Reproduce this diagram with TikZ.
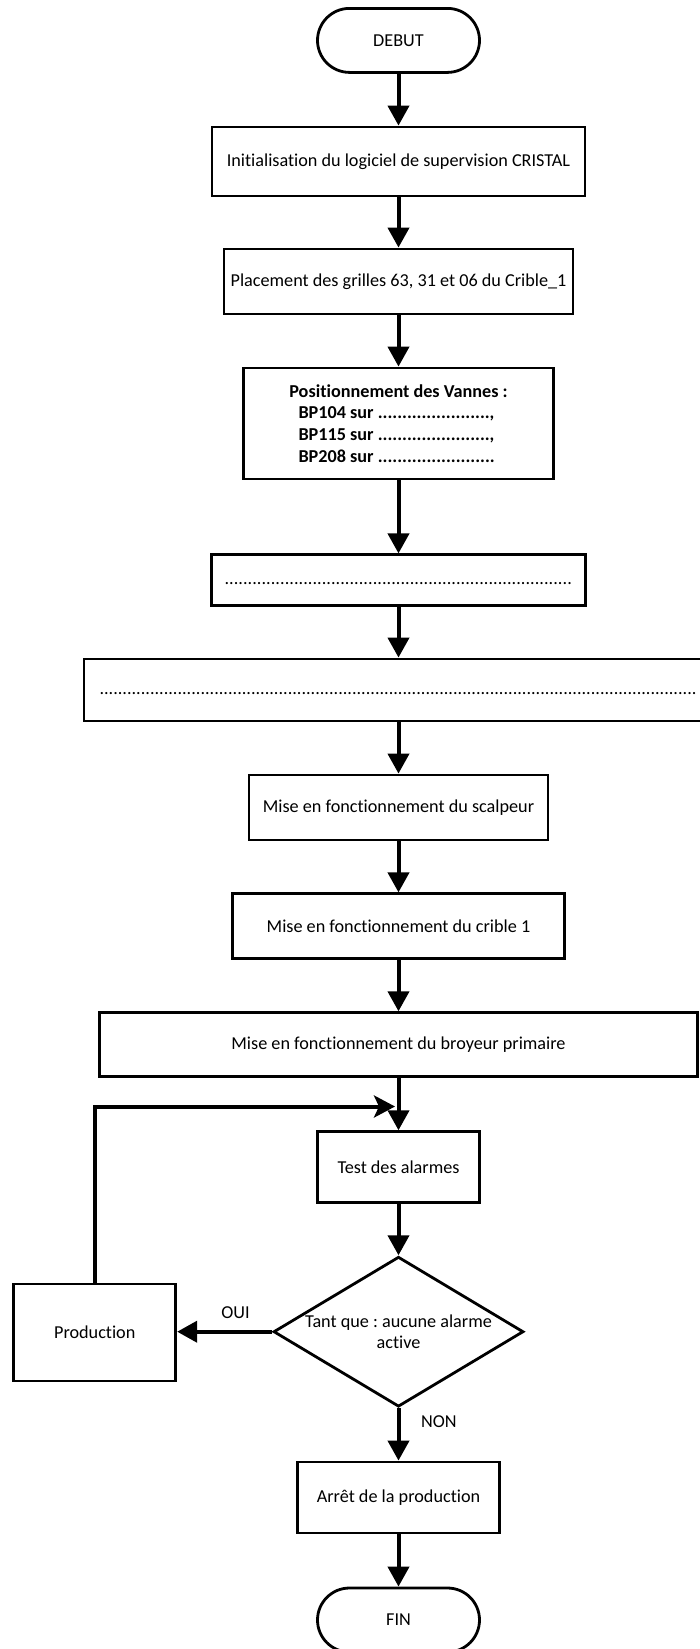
\documentclass[tikz,border=0pt]{standalone}
\usepackage{fontspec}
\setmainfont{Carlito}[Ligatures=NoCommon]
\frenchspacing
\usetikzlibrary{arrows.meta,shapes.geometric}

% a row of tightly packed dots of a given width
\newcommand{\dotrow}[1]{\hbox to #1{\xleaders\hbox{.}\hfill}}
% one valve line, left aligned in a fixed-width slot
\newcommand{\valve}[1]{\makebox[200pt][l]{#1}}

\begin{document}
\begin{tikzpicture}[x=1pt,y=-1pt,
  every node/.style={font=\fontsize{18.2}{21.7}\selectfont},
  box/.style={draw,line width=2.8pt,rectangle,inner sep=0pt},
  term/.style={draw,line width=2.8pt,rectangle,rounded corners=32pt,inner sep=0pt,
    minimum width=162pt,minimum height=64pt},
  decbox/.style={draw,line width=2.8pt,diamond,inner sep=0pt,
    minimum width=250pt,minimum height=150pt},
  arr/.style={line width=4pt,-{Triangle[length=20pt,width=21pt]}},
  looparr/.style={line width=4pt,-{Stealth[length=21pt,width=22pt,inset=5pt]}},
  lbl/.style={inner sep=0pt}]

\useasboundingbox (0,0) rectangle (700,1649);
\clip (0,0) rectangle (700,1649);

% main column
\node[term] (debut) at (398.5,40.4) {DEBUT};
\node[box,minimum width=373pt,minimum height=69pt] (init) at (398.5,161.5)
  {Initialisation du logiciel de supervision CRISTAL};
\node[box,minimum width=349pt,minimum height=65pt] (place) at (398.5,281.5)
  {Placement des grilles 63, 31 et 06 du Crible\_1};
\node[box,minimum width=310pt,minimum height=111pt,align=center,font=\fontsize{18.2}{21.7}\selectfont\bfseries] (posit) at (398.5,423.5)
  {Positionnement des Vannes :\\
   \valve{BP104 sur \dotrow{112pt},}\\
   \valve{BP115 sur \dotrow{112pt},}\\
   \valve{BP208 sur \dotrow{117pt}}};
\node[box,minimum width=374pt,minimum height=51pt] (dotsa) at (398.5,580.3)
  {\strut\dotrow{348pt}};
\node[box,minimum width=629pt,minimum height=62pt] (dotsb) at (398.5,690)
  {\strut\dotrow{598pt}};
\node[box,minimum width=299pt,minimum height=65pt] (scalp) at (398.5,807.5)
  {Mise en fonctionnement du scalpeur};
\node[box,minimum width=332pt,minimum height=65pt] (crib) at (398.5,926.3)
  {Mise en fonctionnement du crible 1};
\node[box,minimum width=598pt,minimum height=64pt] (broy) at (398.5,1044.7)
  {Mise en fonctionnement du broyeur primaire};
\node[box,minimum width=162pt,minimum height=71pt] (test) at (398.5,1167.2)
  {Test des alarmes};
\node[decbox] (dec) at (398.5,1331.7) {};
\node[lbl,align=center] (dectxt) at (dec.center) {Tant que : aucune alarme\\active};
\node[box,minimum width=162pt,minimum height=97pt] (prod) at (94.75,1332.5)
  {Production};
\node[box,minimum width=202pt,minimum height=71pt] (arret) at (398.5,1497.5)
  {Arrêt de la production};
\node[term] (fin) at (398.5,1620) {FIN};

% branch labels
\node[lbl] (oui) at (235.5,1312.7) {OUI};
\node[lbl] (non) at (438.8,1422) {NON};

% flow connectors
\draw[arr] (debut) -- (init);
\draw[arr] (init) -- (place);
\draw[arr] (place) -- (posit);
\draw[arr] (posit) -- (dotsa);
\draw[arr] (dotsa) -- (dotsb);
\draw[arr] (dotsb) -- (scalp);
\draw[arr] (scalp) -- (crib);
\draw[arr] (crib) -- (broy);
\draw[arr] (broy) -- (test);
\draw[arr] (test) -- (dec);
\draw[arr] (dec.west) -- (prod.east |- dec.west);
\draw[arr] (dec.south) -- (arret);
\draw[arr] (arret) -- (fin);

% loop back from production to the alarm test
\coordinate (merge) at (395,1106.5);
\draw[looparr] (prod.north) |- (merge);

\end{tikzpicture}
\end{document}
